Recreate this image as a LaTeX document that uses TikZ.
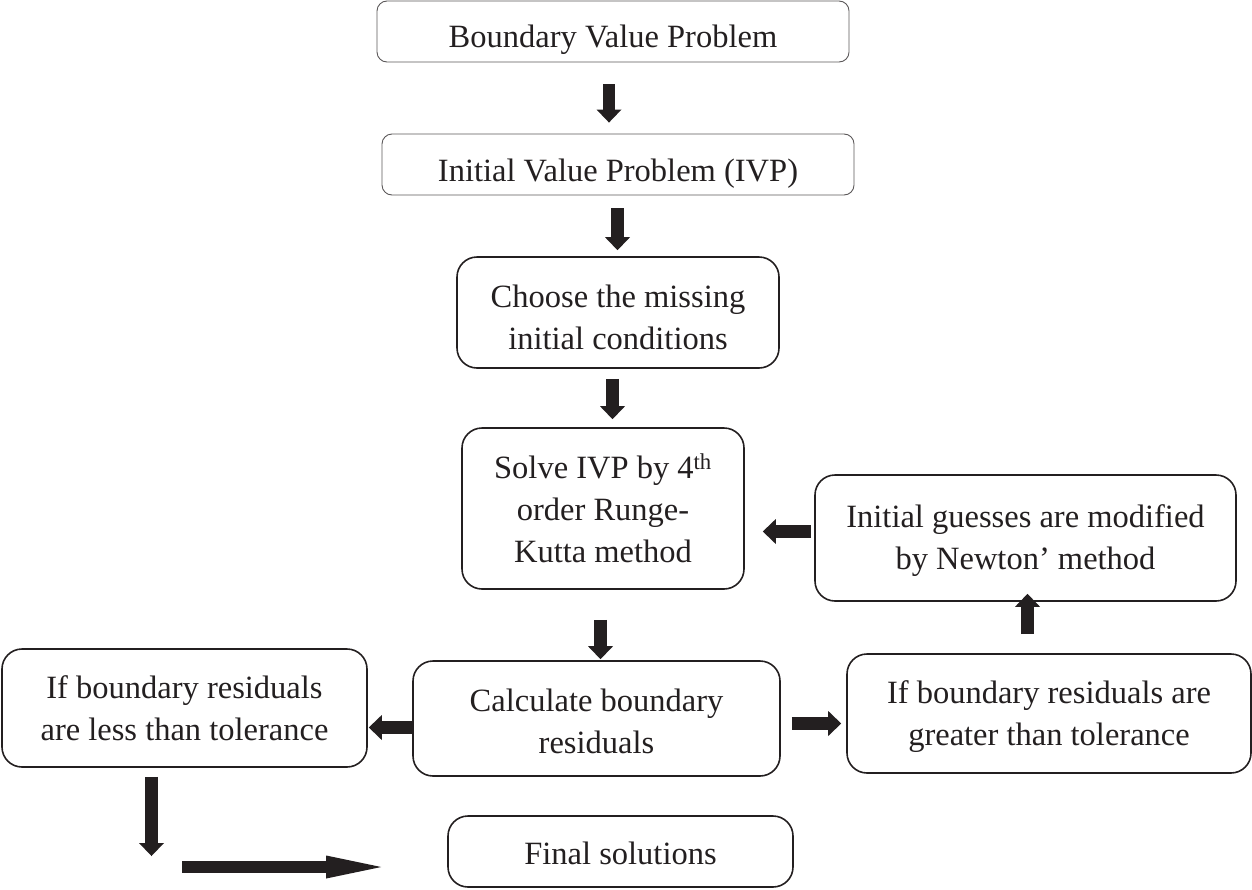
\documentclass[tikz,border=0pt]{standalone}
\usepackage{fontspec}
\setmainfont{Liberation Serif}
\usetikzlibrary{arrows.meta,calc}
\definecolor{ink}{HTML}{231F20}
\begin{document}
\begin{tikzpicture}[x=1pt,y=-1pt,
  box/.style={draw=ink,line width=1.6pt,rounded corners=20pt,align=center,inner sep=0pt,text=ink,
    font=\fontsize{32.5pt}{42pt}\selectfont},
  thinbox/.style={box,draw=ink!75,line width=0.9pt,rounded corners=10pt},
  barrow/.style={draw=ink,line width=12.5pt,-{Triangle[width=25pt,length=13pt,line width=0pt]}},
  bigarrow/.style={draw=ink,line width=12.5pt,-{Triangle[width=23pt,length=55pt,line width=0pt]}}]
\useasboundingbox (0,0) rectangle (1252,889);
\node[thinbox,minimum width=472pt,minimum height=61pt] (bvp) at (613,31.5) {\raisebox{-15.5pt}[0pt][0pt]{Boundary Value Problem}};
\node[thinbox,minimum width=472pt,minimum height=61pt] (ivp) at (618,164.5) {\raisebox{-17pt}[0pt][0pt]{Initial Value Problem (IVP)}};
\node[box,minimum width=322pt,minimum height=111pt] (choose) at (618,312.5) {\rule{0pt}{33pt}Choose the missing\\initial conditions};
\node[box,minimum width=282pt,minimum height=161pt] (solve) at (603,508.5) {Solve IVP by 4\textsuperscript{th}\\order Runge-\\Kutta method};
\node[box,minimum width=421pt,minimum height=126pt] (newton) at (1025.5,538) {\rule{0pt}{27pt}Initial guesses are modified\\by Newton’ method};
\node[box,minimum width=404pt,minimum height=119pt] (greater) at (1049,713.5) {\rule{0pt}{29pt}If boundary residuals are\\greater than tolerance};
\node[box,minimum width=367pt,minimum height=115pt] (calc) at (596.5,718.5) {\rule{0pt}{29pt}Calculate boundary\\residuals};
\node[box,minimum width=365pt,minimum height=118pt] (less) at (184.5,708) {If boundary residuals\\are less than tolerance};
\node[box,minimum width=345pt,minimum height=71pt] (final) at (620.5,851.5) {\rule{0pt}{27pt}Final solutions};
\coordinate (downend) at (151.5,856);
\coordinate (rstart) at (182,867);
% vertical main arrows
\draw[barrow,shorten <=22pt,shorten >=11pt] ([xshift=-4pt]bvp.south) -- ([xshift=-4pt]bvp.south |- ivp.north);
\draw[barrow,shorten <=13pt,shorten >=6pt] ([xshift=-0.5pt]ivp.south) -- ([xshift=-0.5pt]ivp.south |- choose.north);
\draw[barrow,shorten <=10pt,shorten >=8pt] ([xshift=-5.5pt]choose.south) -- ([xshift=-5.5pt]choose.south |- solve.north);
\draw[barrow,shorten <=30pt,shorten >=1pt] ([xshift=-2.5pt]solve.south) -- ([xshift=-2.5pt]solve.south |- calc.north);
% loop
\draw[barrow,shorten <=3pt,shorten >=18pt] (newton.west |- 0,531.5) -- (solve.east |- 0,531.5);
\draw[barrow,shorten <=19pt,shorten >=-8pt] ([xshift=2pt]greater.north -| newton.south) -- ([xshift=2pt]newton.south);
\draw[barrow,shorten <=11pt,shorten >=5pt] (calc.east |- 0,723.5) -- (greater.west |- 0,723.5);
\draw[barrow,shorten >=1pt] (calc.west |- 0,727.5) -- (less.east |- 0,727.5);
% exit
\draw[barrow,shorten <=9pt] (less.south -| downend) -- (downend);
\draw[bigarrow,shorten >=66pt] (rstart) -- (final.west |- rstart);
\end{tikzpicture}
\end{document}
